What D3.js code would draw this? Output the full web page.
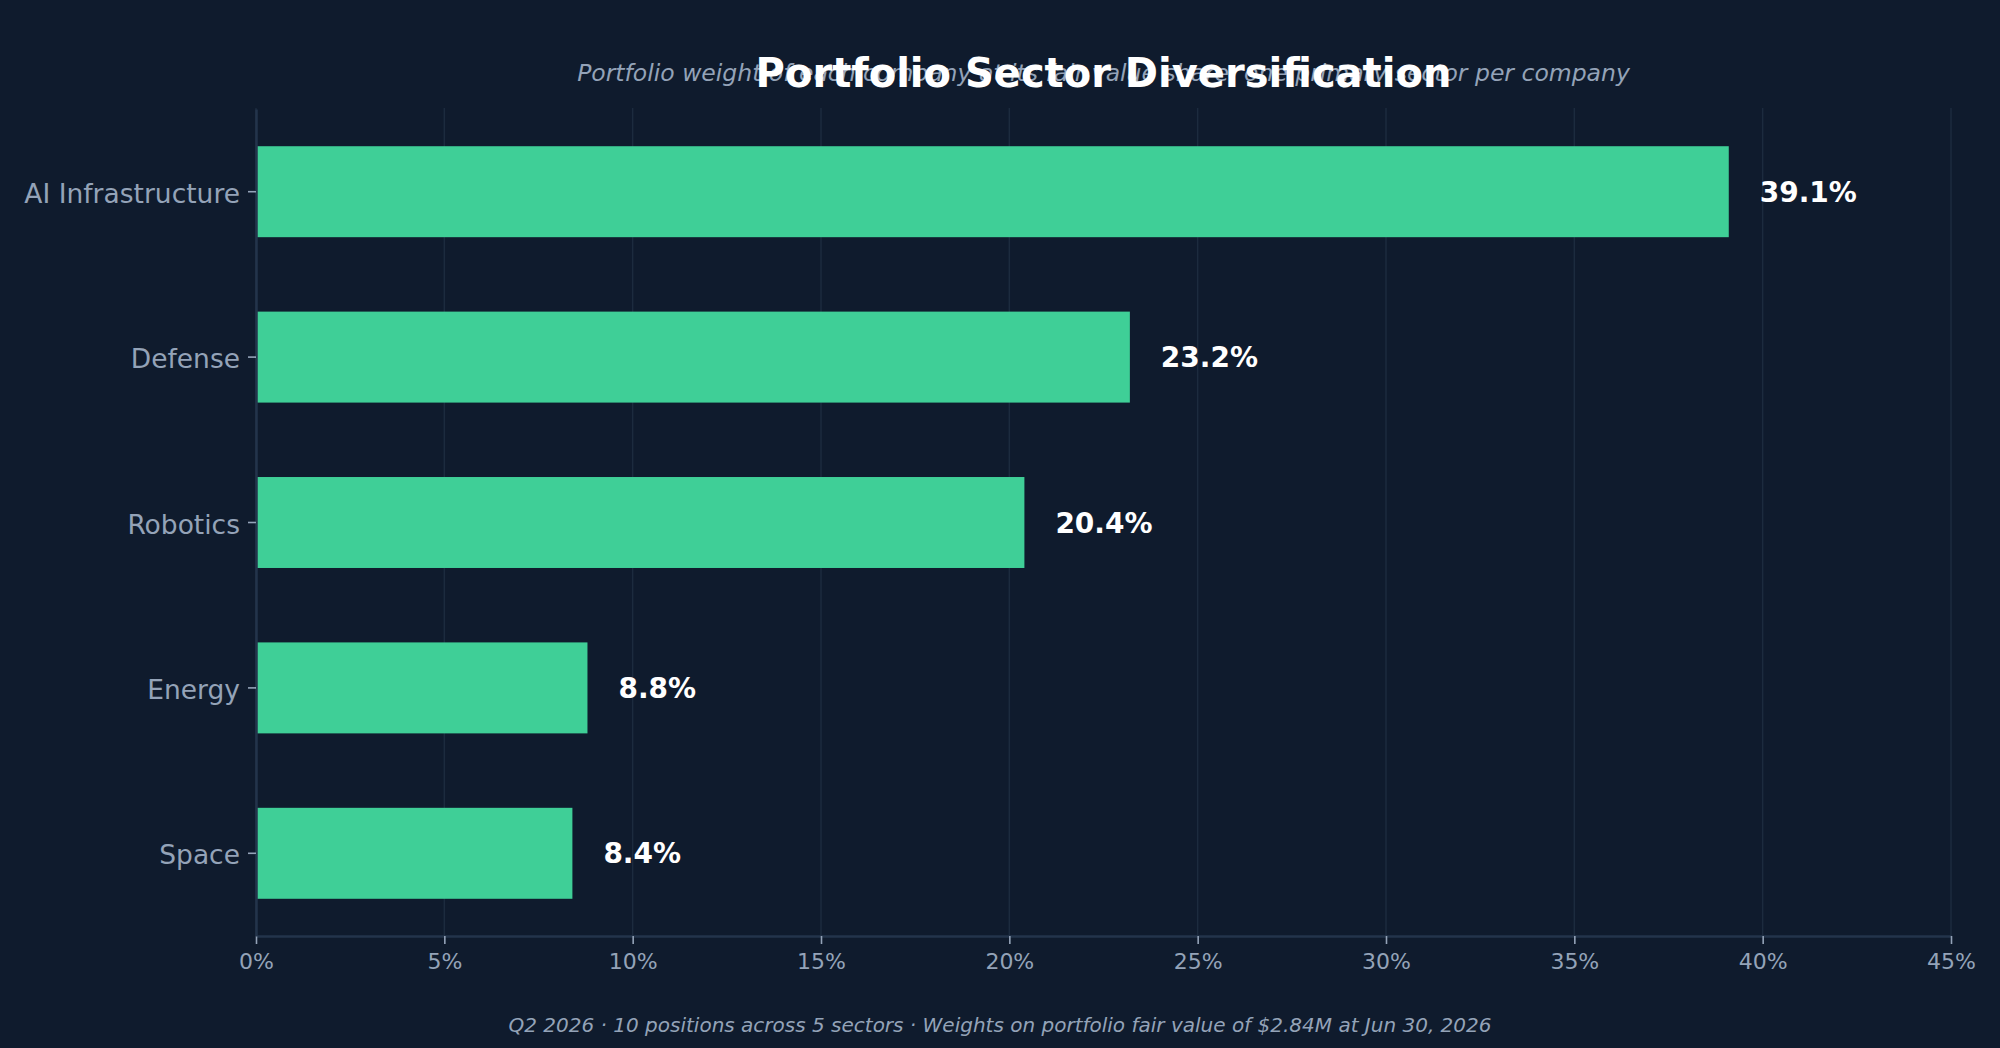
<!DOCTYPE html>
<html lang="en">
<head>
<meta charset="utf-8">
<script src="https://d3js.org/d3.v7.min.js"></script>
<style>
  body { margin: 0; background: #0f1b2d; }
  #plot { width: 2000px; height: 1048px; }
  text { font-family: "DejaVu Sans", sans-serif; }
</style>
</head>
<body>
<div id="plot"></div>
<script>
// data
const sectors = ["AI Infrastructure", "Defense", "Robotics", "Energy", "Space"];
const weights = [39.1, 23.2, 20.4, 8.8, 8.4];
const xTicks = [0, 5, 10, 15, 20, 25, 30, 35, 40, 45];

const titleText = "Portfolio Sector Diversification";
const subtitleText = "Portfolio weight of each company at its fair value share, one primary sector per company";
const footerText = "Q2 2026 \u00b7 10 positions across 5 sectors \u00b7 Weights on portfolio fair value of $2.84M at Jun 30, 2026";

// set-up
const width = 2000, height = 1048;
const margin = {top: 109, right: 49, bottom: 112, left: 256};
const bg = "#0f1b2d";
const barColor = "#3fcf97";
const textGray = "#94a3b8";
const gridColor = "#1c2b3e";
const spineColor = "#23344b";

const svg = d3.select("#plot")
  .append("svg")
    .attr("width", width)
    .attr("height", height);

svg.append("rect")
  .attr("width", width)
  .attr("height", height)
  .attr("fill", bg);

const x = d3.scaleLinear()
  .domain([0, 45])
  .range([margin.left, width - margin.right]);

const y = d3.scaleBand()
  .domain(sectors)
  .range([margin.top, height - margin.bottom])
  .paddingInner(0.45)
  .paddingOuter(0.225);

// grid
svg.append("g")
  .selectAll("line")
  .data(xTicks)
  .join("line")
    .attr("x1", d => x(d))
    .attr("x2", d => x(d))
    .attr("y1", margin.top - 1)
    .attr("y2", height - margin.bottom)
    .attr("stroke", gridColor)
    .attr("stroke-width", 1.5);

// bars
svg.append("g")
  .selectAll("rect")
  .data(sectors)
  .join("rect")
    .attr("x", x(0))
    .attr("y", d => y(d))
    .attr("width", (d, i) => x(weights[i]) - x(0))
    .attr("height", y.bandwidth())
    .attr("fill", barColor);

// value labels
svg.append("g")
  .selectAll("text")
  .data(sectors)
  .join("text")
    .attr("x", (d, i) => x(weights[i]) + 31)
    .attr("y", d => y(d) + y.bandwidth() / 2)
    .attr("dy", "0.36em")
    .attr("fill", "#ffffff")
    .style("font-size", "28px")
    .style("font-weight", "bold")
    .text((d, i) => weights[i].toFixed(1) + "%");

// axes
const xAxis = svg.append("g")
  .attr("transform", `translate(0, ${height - margin.bottom})`)
  .call(d3.axisBottom(x).tickValues(xTicks).tickFormat(d => d + "%").tickSize(8).tickPadding(9).tickSizeOuter(0));

const yAxis = svg.append("g")
  .attr("transform", `translate(${margin.left}, 0)`)
  .call(d3.axisLeft(y).tickSize(8).tickPadding(8).tickSizeOuter(0));

[xAxis, yAxis].forEach(a => {
  a.select(".domain").attr("stroke", spineColor).attr("stroke-width", 2.5);
  a.selectAll(".tick line").attr("stroke", textGray).attr("stroke-width", 1.6);
  a.selectAll(".tick text").attr("fill", textGray).style("font-family", "DejaVu Sans, sans-serif");
});
xAxis.selectAll(".tick text").style("font-size", "22px");
yAxis.selectAll(".tick text").style("font-size", "26.5px").attr("dy", "0.42em");

// subtitle (drawn first so title sits on top)
svg.append("text")
  .attr("x", (x(0) + x(45)) / 2)
  .attr("y", 81)
  .attr("text-anchor", "middle")
  .attr("fill", textGray)
  .style("font-size", "23.5px")
  .style("font-style", "italic")
  .text(subtitleText);

svg.append("text")
  .attr("x", (x(0) + x(45)) / 2)
  .attr("y", 87)
  .attr("text-anchor", "middle")
  .attr("fill", "#ffffff")
  .style("font-size", "40px")
  .style("font-weight", "bold")
  .text(titleText);

// footer
svg.append("text")
  .attr("x", width / 2)
  .attr("y", 1032)
  .attr("text-anchor", "middle")
  .attr("fill", textGray)
  .style("font-size", "20px")
  .style("font-style", "italic")
  .text(footerText);
</script>
</body>
</html>
